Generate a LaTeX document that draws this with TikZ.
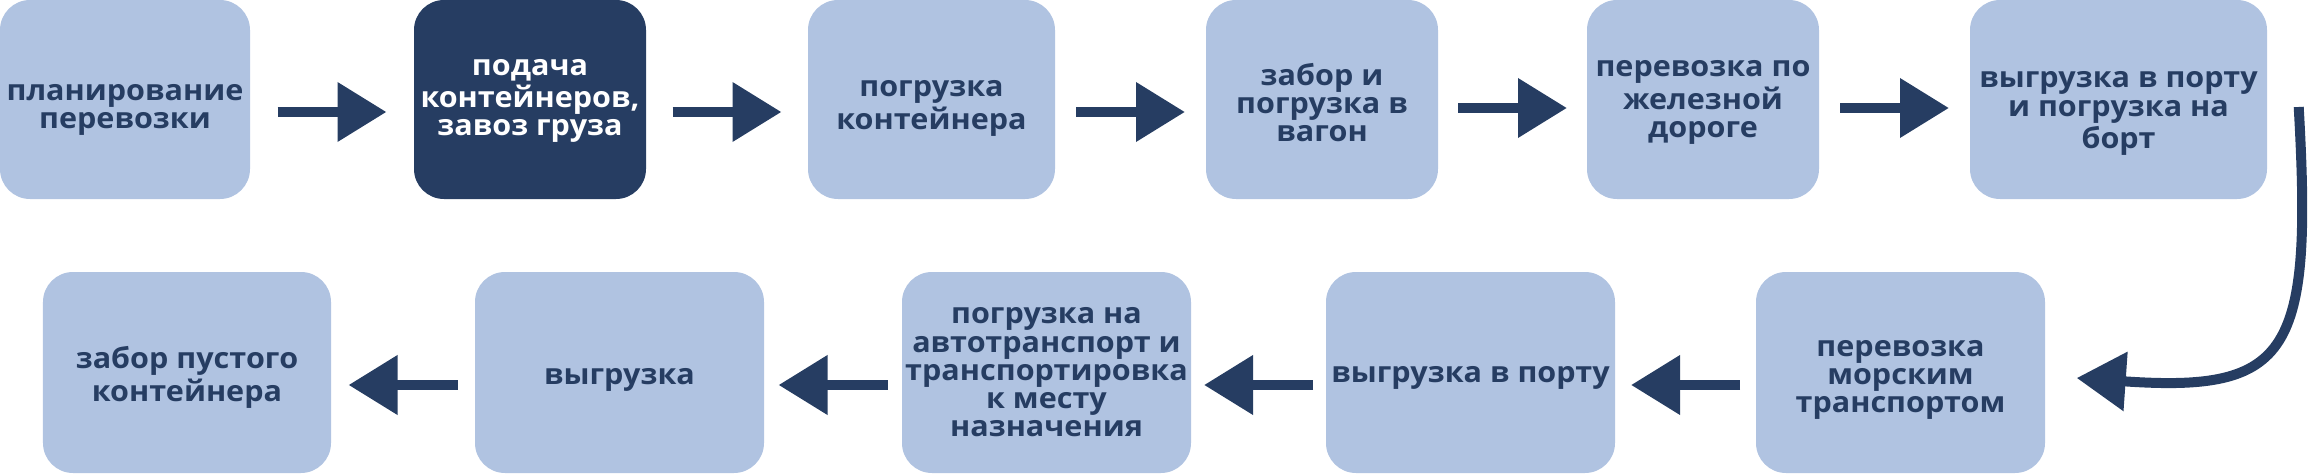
\documentclass[tikz,border=0pt]{standalone}
\usepackage{fontspec}
\setmainfont{Open Sans}[FakeStretch=1.06]
\usetikzlibrary{calc,arrows.meta}
\definecolor{paleblue}{HTML}{B0C3E1}
\definecolor{navy}{HTML}{263D62}
% #1 = height of the first line, sets how low the text sits in its box
\newcommand{\boxtext}[2]{\rule{0pt}{#1}#2\rule[-2.5pt]{0pt}{2.5pt}}
\tikzset{
  stage/.style={fill=paleblue, text=navy, rounded corners=0.3cm, inner sep=0pt,
    align=center, minimum height=1.99cm, font=\fontsize{8.2}{8}\selectfont\bfseries},
  current/.style={stage, fill=navy, text=white},
  low/.style={stage, minimum width=2.89cm, minimum height=2.01cm},
  flow/.style={draw=navy, line width=0.105cm, -{Triangle[length=0.49cm,width=0.57cm,fill=navy]}},
  flowcurve/.style={flow, line width=0.1cm},
}

\begin{document}
\begin{tikzpicture}
			\useasboundingbox (0,0) rectangle (23.08,4.73);
			% top row
			\node[stage, minimum width=2.50cm] (p1) at (1.25,3.735) {\boxtext{10.9pt}{планирование\\перевозки}};
			\node[current, minimum width=2.32cm] (p2) at (5.30,3.735) {\boxtext{6pt}{подача\\контейнеров,\\завоз груза}};
			\node[stage, minimum width=2.47cm] (p3) at (9.315,3.735) {\boxtext{10pt}{погрузка\\контейнера}};
			\node[stage, minimum width=2.32cm] (p4) at (13.22,3.735) {\boxtext{10.3pt}{забор и\\погрузка в\\вагон}};
			\node[stage, minimum width=2.32cm] (p5) at (17.03,3.735) {\boxtext{6.9pt}{перевозка по\\железной\\дороге}};
			\node[stage, minimum width=2.97cm] (p6) at (21.185,3.735) {\boxtext{13.2pt}{выгрузка в порту\\и погрузка на\\борт}};
			% bottom row
			\node[low] (p7) at (19.005,1.005) {\boxtext{9.2pt}{перевозка\\морским\\транспортом}};
			\node[low] (p8) at (14.705,1.005) {\boxtext{8.3pt}{выгрузка в порту}};
			\node[low] (p9) at (10.465,1.005) {\boxtext{6.9pt}{погрузка на\\автотранспорт и\\транспортировка\\к месту\\назначения}};
			\node[low] (p10) at (6.195,1.005) {\boxtext{9.5pt}{выгрузка}};
			\node[low, minimum width=2.88cm] (p11) at (1.87,1.005) {\boxtext{9.5pt}{забор пустого\\контейнера}};
			
			\draw[flow] ($(p1.east)!.5!(p2.west)+(-.545,-.125)$) -- ++(1.09,0);
			\draw[flow] ($(p2.east)!.5!(p3.west)+(-.545,-.125)$) -- ++(1.09,0);
			\draw[flow] ($(p3.east)!.5!(p4.west)+(-.545,-.125)$) -- ++(1.09,0);
			\draw[flow] ($(p4.east)!.5!(p5.west)+(-.545,-.085)$) -- ++(1.09,0);
			\draw[flow] ($(p5.east)!.5!(p6.west)+(-.545,-.085)$) -- ++(1.09,0);
			
			\coordinate (turn) at ($(p6.east)+(.31,-.075)$);
			\coordinate (land) at ($(p7.east)+(.31,-.055)$);
			\draw[flowcurve] (turn) .. controls +(.14,-2.46) and +(2.14,-.15) .. (land);
			
			\draw[flow] ($(p7.west)!.5!(p8.east)+(.545,-.125)$) -- ++(-1.09,0);
			\draw[flow] ($(p8.west)!.5!(p9.east)+(.545,-.125)$) -- ++(-1.09,0);
			\draw[flow] ($(p9.west)!.5!(p10.east)+(.545,-.125)$) -- ++(-1.09,0);
			\draw[flow] ($(p10.west)!.5!(p11.east)+(.545,-.125)$) -- ++(-1.09,0);
			\end{tikzpicture}
\end{document}
